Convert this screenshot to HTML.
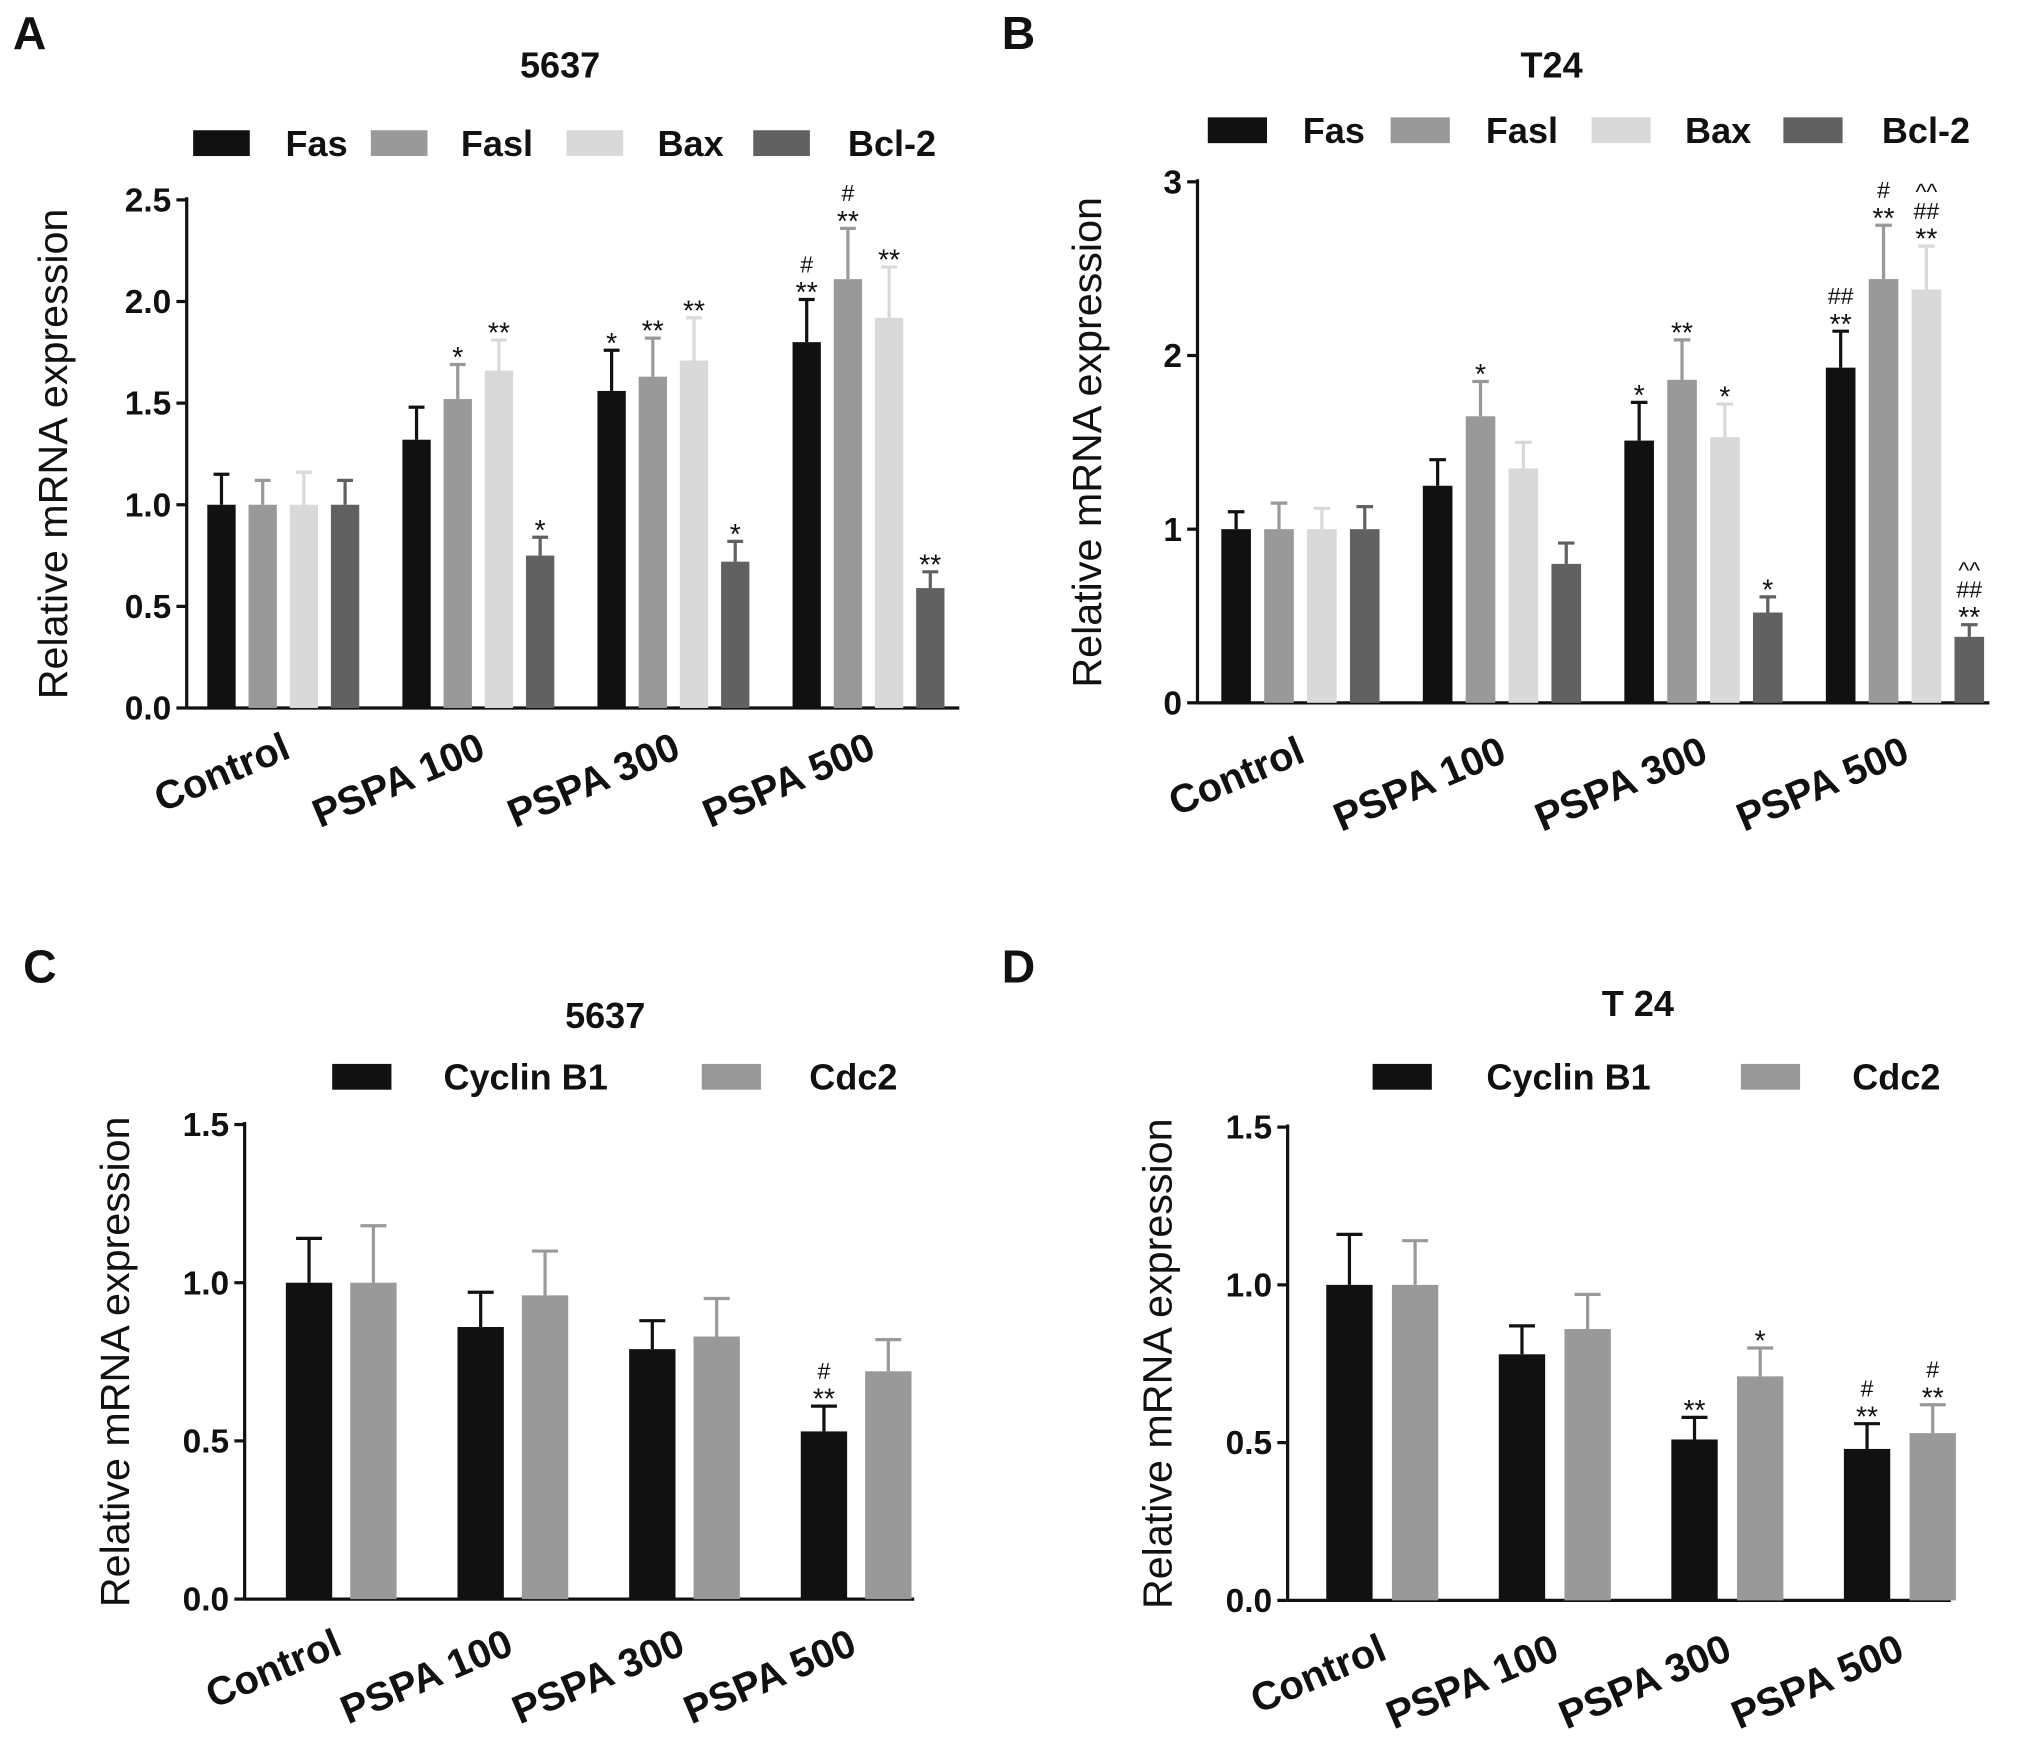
<!DOCTYPE html>
<html><head><meta charset="utf-8"><style>
html,body{margin:0;padding:0;background:#fff}
svg{display:block}
text{font-family:"Liberation Sans",Arial,sans-serif;fill:#111}
</style></head><body>
<svg id="fig" width="2019" height="1759" viewBox="0 0 1568 1364" preserveAspectRatio="none" xmlns="http://www.w3.org/2000/svg"></svg>
<script>
const groupsAll = ["Control","PSPA 100","PSPA 300","PSPA 500"];
// Panel A (5637 apoptosis)
const aFas=[1,1.32,1.56,1.80], aFasE=[.15,.16,.2,.21];
const aFasl=[1,1.52,1.63,2.11], aFaslE=[.12,.17,.19,.25];
const aBax=[1,1.66,1.71,1.92], aBaxE=[.16,.15,.21,.25];
const aBcl=[1,0.75,0.72,0.59], aBclE=[.12,.09,.1,.08];
const aAnn=[["","","",""],["","*","**","*"],["*","**","**","*"],["#\n**","#\n**","**","**"]];
const aTicks=["0.0","0.5","1.0","1.5","2.0","2.5"], aTickVals=[0,.5,1,1.5,2,2.5];
// Panel B (T24 apoptosis)
const bFas=[1,1.25,1.51,1.93], bFasE=[.1,.15,.22,.21];
const bFasl=[1,1.65,1.86,2.44], bFaslE=[.15,.2,.23,.31];
const bBax=[1,1.35,1.53,2.38], bBaxE=[.12,.15,.19,.25];
const bBcl=[1,0.8,0.52,0.38], bBclE=[.13,.12,.09,.07];
const bAnn=[["","","",""],["","*","",""],["*","**","*","*"],["##\n**","#\n**","^^\n##\n**","^^\n##\n**"]];
const bTicks=["0","1","2","3"], bTickVals=[0,1,2,3];
// Panel C (5637 cycle)
const cCyc=[1,.86,.79,.53], cCycE=[.14,.11,.09,.08];
const cCdc=[1,.96,.83,.72], cCdcE=[.18,.14,.12,.1];
const cAnn=[["",""],["",""],["",""],["#\n**",""]];
const cdTicks=["0.0","0.5","1.0","1.5"], cdTickVals=[0,.5,1,1.5];
// Panel D (T24 cycle)
const dCyc=[1,.78,.51,.48], dCycE=[.16,.09,.07,.08];
const dCdc=[1,.86,.71,.53], dCdcE=[.14,.11,.09,.09];
const dAnn=[["",""],["",""],["**","*"],["#\n**","#\n**"]];

const NS="http://www.w3.org/2000/svg";
const svg=document.getElementById('fig');
function el(tag,attrs,parent,txt){const e=document.createElementNS(NS,tag);for(const k in attrs)e.setAttribute(k,attrs[k]);if(txt!==undefined)e.textContent=txt;(parent||svg).appendChild(e);return e;}

function panel(cfg){
  const g=el('g',{});
  
  
  const y=v=>cfg.y0-(v/cfg.ymax)*(cfg.y0-cfg.ytop);
  const x=(gi,si)=>cfg.gx[0]+gi*cfg.gstep+si*cfg.bstep;
  const ax=el('line',{x1:cfg.ax,y1:cfg.ytop-2,x2:cfg.ax,y2:cfg.y0,stroke:'#111','stroke-width':2.5},g);
  
  const xa=el('line',{x1:cfg.ax,y1:cfg.y0,x2:cfg.axEnd,y2:cfg.y0,stroke:'#111','stroke-width':2.5},g);
  
  cfg.tickVals.forEach((v,i)=>{
    el('line',{x1:cfg.ax-8,y1:y(v),x2:cfg.ax,y2:y(v),stroke:'#111','stroke-width':2.5},g);
    const t=el('text',{x:cfg.ax-12,y:y(v)+9,'text-anchor':'end','font-size':26,'font-weight':'bold'},g,cfg.ticks[i]);
    
  });
  const yt=el('text',{x:0,y:0,'text-anchor':'middle','font-size':32,'font-weight':'500',transform:`translate(${cfg.ytx},${(cfg.y0+cfg.ytop)/2}) rotate(-90)`},g,'Relative mRNA expression');
  
  const tt=el('text',{x:cfg.titleX,y:cfg.titleY,'text-anchor':'middle','font-size':28,'font-weight':'bold'},g,cfg.title);
  
  const pl=el('text',{x:cfg.plX,y:cfg.plY,'font-size':36,'font-weight':'bold'},g,cfg.id);
  
  cfg.legend.forEach((L,i)=>{
    const r=el('rect',{x:L[1],y:cfg.legY-10,width:cfg.legW,height:20,fill:cfg.colors[i]},g);
    
    const t=el('text',{x:L[2],y:cfg.legY+10,'text-anchor':'end','font-size':28,'font-weight':'bold'},g,L[0]);
    
  });
  groupsAll.forEach((gn,gi)=>{
    cfg.series.forEach((s,si)=>{
      const cx=x(gi,si), v=s[gi], e=cfg.errs[si][gi];
      const r=el('rect',{x:cx-cfg.bw/2,y:y(v),width:cfg.bw,height:cfg.y0-y(v),fill:cfg.colors[si]},g);
      
      el('line',{x1:cx,y1:y(v),x2:cx,y2:y(v+e),stroke:cfg.colors[si],'stroke-width':2.5},g);
      el('line',{x1:cx-cfg.bw*0.28,y1:y(v+e),x2:cx+cfg.bw*0.28,y2:y(v+e),stroke:cfg.colors[si],'stroke-width':2.5},g);
      const a=cfg.ann[gi][si];
      if(a){const lines=a.split('\n');lines.forEach((ln,li)=>{
        const t=el('text',{x:cx,y:y(v+e)-6-(lines.length-1-li)*15+ (ln.indexOf('*')>=0?8:0),'text-anchor':'middle','font-size':ln.indexOf('*')>=0?22:18},g,ln);
        
      });}
    });
    const mid=x(gi,(cfg.series.length-1)/2);
    const lx=mid+cfg.labDx, ly=cfg.y0+cfg.labDy;
    const t=el('text',{x:0,y:0,'text-anchor':'end','font-size':31,'font-weight':'bold',transform:`translate(${lx},${ly}) rotate(-23)`},g,gn);
    
  });
}
const c4=['#111','#999','#d9d9d9','#616161'];
panel({id:'A',title:'5637',titleX:435,titleY:60,plX:10,plY:38,ax:145,axEnd:745,y0:549,ytop:155,ymax:2.5,ticks:aTicks,tickVals:aTickVals,ytx:52,
  gx:[172],gstep:151.5,bstep:32,bw:22,series:[aFas,aFasl,aBax,aBcl],errs:[aFasE,aFaslE,aBaxE,aBclE],ann:aAnn,colors:c4,
  legY:111,legW:44,legend:[['Fas',150,270],['Fasl',288,414],['Bax',440,562],['Bcl-2',585,727]],labDx:7,labDy:38});
panel({id:'B',title:'T24',titleX:1205,titleY:60,plX:778,plY:38,ax:930,axEnd:1545,y0:545,ytop:141,ymax:3,ticks:bTicks,tickVals:bTickVals,ytx:855,
  gx:[960],gstep:156.5,bstep:33.3,bw:23,series:[bFas,bFasl,bBax,bBcl],errs:[bFasE,bFaslE,bBaxE,bBclE],ann:bAnn,colors:c4,
  legY:101,legW:46,legend:[['Fas',938,1060],['Fasl',1080,1210],['Bax',1236,1360],['Bcl-2',1385,1530]],labDx:5,labDy:45});
panel({id:'C',title:'5637',titleX:470,titleY:797,plX:18,plY:762,ax:190,axEnd:710,y0:1240,ytop:872,ymax:1.5,ticks:cdTicks,tickVals:cdTickVals,ytx:100,
  gx:[240],gstep:133.3,bstep:50,bw:36,series:[cCyc,cCdc],errs:[cCycE,cCdcE],ann:cAnn,colors:['#111','#999'],
  legY:835,legW:46,legend:[['Cyclin B1',258,472],['Cdc2',545,697]],labDx:2,labDy:42});
panel({id:'D',title:'T 24',titleX:1272,titleY:788,plX:778,plY:762,ax:1000,axEnd:1515,y0:1241,ytop:874,ymax:1.5,ticks:cdTicks,tickVals:cdTickVals,ytx:910,
  gx:[1048],gstep:134,bstep:51,bw:36,series:[dCyc,dCdc],errs:[dCycE,dCdcE],ann:dAnn,colors:['#111','#999'],
  legY:835,legW:46,legend:[['Cyclin B1',1066,1282],['Cdc2',1352,1507]],labDx:5,labDy:45});
</script>
</body></html>
